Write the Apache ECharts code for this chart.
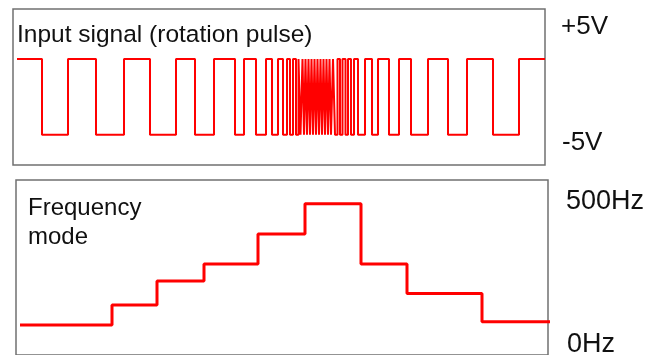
<!DOCTYPE html>
<html lang="en">
<head>
    <meta charset="UTF-8">
    <title>Rotation pulse and frequency mode</title>
    <script src="https://cdn.jsdelivr.net/npm/echarts@6.0.0/dist/echarts.min.js"></script>
    <style>
        html, body { margin: 0; padding: 0; background: #fff; }
        #main { width: 648px; height: 355px; }
    </style>
</head>
<body>
<div id="main"></div>
<script>
    // edge times of the input pulse train (time units, alternating fall / rise, starts high)
    const pulseStart = 4;
    const pulseEnd = 532;
    const pulseEdges = [29, 55, 83, 111, 137, 163, 182, 201, 222, 231, 243, 253, 259, 265,
        270, 274, 277, 280, 283, 285.5, 287.5, 289.5, 291, 292.5, 294, 295.5, 297, 298.5,
        300, 301.5, 303, 304.5, 306, 307.5, 309, 310.5, 312, 313.5, 315, 316.5, 318, 320,
        322, 324.5, 327, 329.5, 332.5, 335, 338, 341, 345, 352,
        359, 365, 376, 386, 398, 415, 435, 454, 480, 506];
    const highVolt = 5;
    const lowVolt = -5;

    // frequency mode: step start times and level (Hz)
    const freqTimes = [4, 96, 141, 188, 242, 289, 345, 391, 466, 534];
    const freqLevels = [83, 152, 234, 293, 396, 500, 293, 191, 94];

    const signalLabels = ['+5V', '-5V'];
    const freqLabels = ['500Hz', '0Hz'];

    const chart = echarts.init(document.getElementById('main'));

    // build the square wave point list
    const pulseData = [[pulseStart, highVolt]];
    pulseEdges.forEach((t, i) => {
        pulseData.push([t, i % 2 === 0 ? lowVolt : highVolt]);
    });
    pulseData.push([pulseEnd, highVolt]);

    const freqData = freqTimes.map((t, i) => [t, freqLevels[Math.min(i, freqLevels.length - 1)]]);

    const font = '"Liberation Sans", Arial, sans-serif';
    const boxColor = '#707070';

    const option = {
        animation: false,
        grid: [
            { left: 13, top: 9, width: 532, height: 156, show: true, borderColor: boxColor, borderWidth: 1.5, backgroundColor: '#fff' },
            { left: 16, top: 180, width: 532, height: 176, show: true, borderColor: boxColor, borderWidth: 1.5, backgroundColor: '#fff' }
        ],
        xAxis: [
            { gridIndex: 0, type: 'value', min: 0, max: 532, show: false },
            { gridIndex: 1, type: 'value', min: 0, max: 532, show: false }
        ],
        yAxis: [
            { gridIndex: 0, type: 'value', min: -9, max: 11.6, show: false },
            { gridIndex: 1, type: 'value', min: -20.5, max: 582, show: false }
        ],
        series: [
            {
                type: 'line', xAxisIndex: 0, yAxisIndex: 0, step: 'end',
                data: pulseData, symbol: 'none', clip: false,
                lineStyle: { color: '#ff0000', width: 2 }
            },
            {
                type: 'line', xAxisIndex: 1, yAxisIndex: 1, step: 'end',
                data: freqData, symbol: 'none', clip: false,
                lineStyle: { color: '#ff0000', width: 3 }
            }
        ],
        graphic: [
            { type: 'text', left: 17, top: 23, style: { text: 'Input signal (rotation pulse)', font: '24.5px ' + font, fill: '#111' } },
            { type: 'text', left: 28, top: 194, style: { text: 'Frequency\nmode', font: '24px ' + font, lineHeight: 29, fill: '#111' } },
            { type: 'text', left: 561, top: 14, style: { text: signalLabels[0], font: '26px ' + font, fill: '#111' } },
            { type: 'text', left: 562, top: 130, style: { text: signalLabels[1], font: '26px ' + font, fill: '#111' } },
            { type: 'text', left: 566, top: 188, style: { text: freqLabels[0], font: '27px ' + font, fill: '#111' } },
            { type: 'text', left: 567, top: 331, style: { text: freqLabels[1], font: '27px ' + font, fill: '#111' } }
        ]
    };

    chart.setOption(option);
</script>
</body>
</html>
